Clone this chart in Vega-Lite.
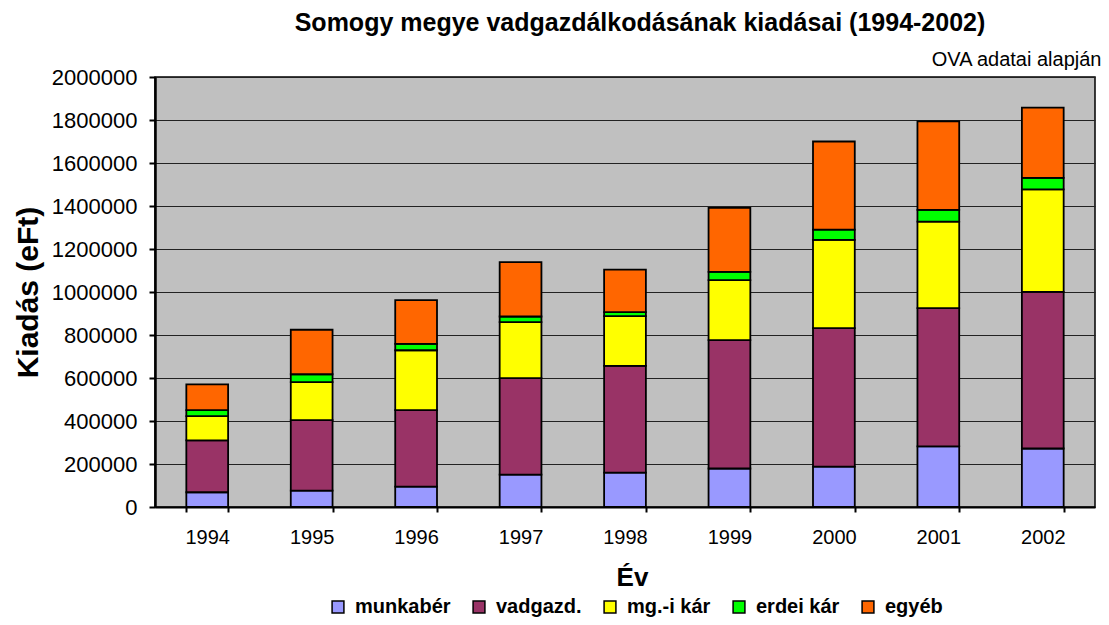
{
  "$schema": "https://vega.github.io/schema/vega-lite/v6.json",
  "width": 940,
  "height": 430,
  "autosize": {"type": "none"},
  "padding": {"left": 155, "top": 77, "right": 14, "bottom": 118},
  "background": "white",
  "config": {
    "font": "Liberation Sans",
    "view": {"fill": "#C0C0C0", "stroke": "#000000", "strokeWidth": 1.5}
  },
  "title": {
    "text": "Somogy megye vadgazdálkodásának kiadásai (1994-2002)",
    "fontSize": 25,
    "fontWeight": "bold",
    "font": "Liberation Sans",
    "anchor": "middle",
    "dx": 15,
    "offset": 13,
    "color": "#000000"
  },
  "data": {
    "values": [
      {"ev": "1994", "tetel": "munkabér", "ertek": 68500, "o": 1},
      {"ev": "1994", "tetel": "vadgazd.", "ertek": 241000, "o": 2},
      {"ev": "1994", "tetel": "mg.-i kár", "ertek": 113000, "o": 3},
      {"ev": "1994", "tetel": "erdei kár", "ertek": 28000, "o": 4},
      {"ev": "1994", "tetel": "egyéb", "ertek": 120000, "o": 5},
      {"ev": "1995", "tetel": "munkabér", "ertek": 76500, "o": 1},
      {"ev": "1995", "tetel": "vadgazd.", "ertek": 328000, "o": 2},
      {"ev": "1995", "tetel": "mg.-i kár", "ertek": 176000, "o": 3},
      {"ev": "1995", "tetel": "erdei kár", "ertek": 37000, "o": 4},
      {"ev": "1995", "tetel": "egyéb", "ertek": 207000, "o": 5},
      {"ev": "1996", "tetel": "munkabér", "ertek": 95000, "o": 1},
      {"ev": "1996", "tetel": "vadgazd.", "ertek": 356000, "o": 2},
      {"ev": "1996", "tetel": "mg.-i kár", "ertek": 278000, "o": 3},
      {"ev": "1996", "tetel": "erdei kár", "ertek": 29500, "o": 4},
      {"ev": "1996", "tetel": "egyéb", "ertek": 204000, "o": 5},
      {"ev": "1997", "tetel": "munkabér", "ertek": 151000, "o": 1},
      {"ev": "1997", "tetel": "vadgazd.", "ertek": 448000, "o": 2},
      {"ev": "1997", "tetel": "mg.-i kár", "ertek": 261000, "o": 3},
      {"ev": "1997", "tetel": "erdei kár", "ertek": 26000, "o": 4},
      {"ev": "1997", "tetel": "egyéb", "ertek": 253000, "o": 5},
      {"ev": "1998", "tetel": "munkabér", "ertek": 160000, "o": 1},
      {"ev": "1998", "tetel": "vadgazd.", "ertek": 496000, "o": 2},
      {"ev": "1998", "tetel": "mg.-i kár", "ertek": 232000, "o": 3},
      {"ev": "1998", "tetel": "erdei kár", "ertek": 18000, "o": 4},
      {"ev": "1998", "tetel": "egyéb", "ertek": 198000, "o": 5},
      {"ev": "1999", "tetel": "munkabér", "ertek": 179000, "o": 1},
      {"ev": "1999", "tetel": "vadgazd.", "ertek": 597000, "o": 2},
      {"ev": "1999", "tetel": "mg.-i kár", "ertek": 279000, "o": 3},
      {"ev": "1999", "tetel": "erdei kár", "ertek": 39000, "o": 4},
      {"ev": "1999", "tetel": "egyéb", "ertek": 297000, "o": 5},
      {"ev": "2000", "tetel": "munkabér", "ertek": 188000, "o": 1},
      {"ev": "2000", "tetel": "vadgazd.", "ertek": 644000, "o": 2},
      {"ev": "2000", "tetel": "mg.-i kár", "ertek": 410000, "o": 3},
      {"ev": "2000", "tetel": "erdei kár", "ertek": 48000, "o": 4},
      {"ev": "2000", "tetel": "egyéb", "ertek": 410000, "o": 5},
      {"ev": "2001", "tetel": "munkabér", "ertek": 282000, "o": 1},
      {"ev": "2001", "tetel": "vadgazd.", "ertek": 643000, "o": 2},
      {"ev": "2001", "tetel": "mg.-i kár", "ertek": 402000, "o": 3},
      {"ev": "2001", "tetel": "erdei kár", "ertek": 55000, "o": 4},
      {"ev": "2001", "tetel": "egyéb", "ertek": 412000, "o": 5},
      {"ev": "2002", "tetel": "munkabér", "ertek": 272000, "o": 1},
      {"ev": "2002", "tetel": "vadgazd.", "ertek": 729000, "o": 2},
      {"ev": "2002", "tetel": "mg.-i kár", "ertek": 476000, "o": 3},
      {"ev": "2002", "tetel": "erdei kár", "ertek": 54000, "o": 4},
      {"ev": "2002", "tetel": "egyéb", "ertek": 327000, "o": 5}
    ]
  },
  "layer": [
    {
      "mark": {"type": "bar", "stroke": "#000000", "strokeWidth": 1.8},
      "encoding": {
        "x": {
          "field": "ev",
          "type": "nominal",
          "sort": null,
          "scale": {"paddingInner": 0.6, "paddingOuter": 0.3},
          "axis": {
            "orient": "bottom",
            "title": "Év",
            "titleFontSize": 26,
            "titleFontWeight": "bold",
            "titleColor": "#000000",
            "titlePadding": 17,
            "titleX": 477,
            "labelAngle": 0,
            "labelFontSize": 20,
            "labelColor": "#000000",
            "labelPadding": 15,
            "ticks": true,
            "tickBand": "extent",
            "tickSize": 5,
            "tickWidth": 2,
            "tickColor": "#000000",
            "domain": true,
            "domainColor": "#000000",
            "domainWidth": 2,
            "grid": false
          }
        },
        "y": {
          "field": "ertek",
          "type": "quantitative",
          "stack": "zero",
          "scale": {"domain": [0, 2000000], "nice": false},
          "axis": {
            "title": "Kiadás (eFt)",
            "titleFontSize": 30,
            "titleFontWeight": "bold",
            "titleColor": "#000000",
            "titlePadding": 8,
            "values": [0, 200000, 400000, 600000, 800000, 1000000, 1200000, 1400000, 1600000, 1800000, 2000000],
            "format": "d",
            "labelFontSize": 22,
            "labelColor": "#000000",
            "labelPadding": 12,
            "tickSize": 6,
            "tickColor": "#000000",
            "tickWidth": 2,
            "domainColor": "#000000",
            "domainWidth": 2.5,
            "grid": true,
            "gridColor": "#222222",
            "gridWidth": 1
          }
        },
        "color": {
          "field": "tetel",
          "type": "nominal",
          "scale": {
            "domain": ["munkabér", "vadgazd.", "mg.-i kár", "erdei kár", "egyéb"],
            "range": ["#9999FF", "#993366", "#FFFF00", "#00FF00", "#FF6600"]
          },
          "legend": {
            "orient": "none",
            "legendX": 173,
            "legendY": 520,
            "direction": "horizontal",
            "title": null,
            "symbolType": "square",
            "symbolSize": 140,
            "symbolStrokeColor": "#000000",
            "symbolStrokeWidth": 1.5,
            "labelFontSize": 20,
            "labelFontWeight": "bold",
            "labelColor": "#000000",
            "labelOffset": 7,
            "columnPadding": 18
          }
        },
        "order": {"field": "o", "type": "quantitative"}
      }
    },
    {
      "mark": {"type": "bar", "opacity": 0},
      "encoding": {
        "x": {
          "field": "ev",
          "type": "nominal",
          "sort": null,
          "axis": {
            "orient": "top",
            "title": "OVA adatai alapján",
            "titleFontSize": 20,
            "titleFontWeight": "normal",
            "titleColor": "#000000",
            "titleAnchor": "end",
            "titleAlign": "right",
            "titlePadding": 8,
            "titleX": 946,
            "labels": false,
            "ticks": false,
            "domain": false,
            "grid": false
          }
        },
        "y": {"field": "ertek", "type": "quantitative", "stack": "zero"}
      }
    }
  ],
  "resolve": {"axis": {"x": "independent"}}
}
